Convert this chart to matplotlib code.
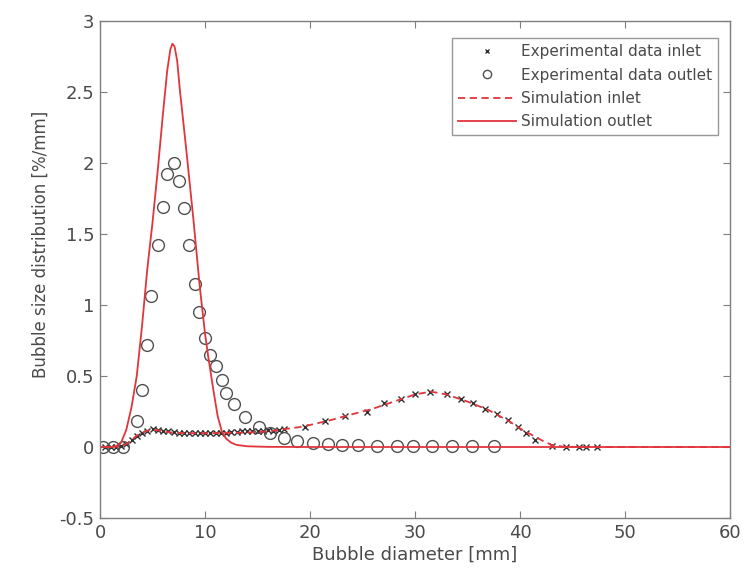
import matplotlib
matplotlib.use("Agg")
import matplotlib.pyplot as plt

plt.rcParams['font.family'] = ['DejaVu Sans']
plt.rcParams['axes.unicode_minus'] = False

# Experimental data inlet (crosses)
inlet_exp_x = [0.5, 1.0, 1.5, 2.0, 2.5, 3.0, 3.5, 4.0, 4.5, 5.0, 5.5, 6.0, 6.5, 7.0, 7.5, 8.0,
               8.5, 9.0, 9.5, 10.0, 10.5, 11.0, 11.5, 12.0, 12.5, 13.0, 13.5, 14.0, 14.5, 15.0,
               15.5, 16.0, 16.5, 17.0, 17.5, 19.5, 21.4, 23.3, 25.4, 27.0, 28.7, 30.0, 31.4,
               33.0, 34.35, 35.5, 36.7, 37.8, 38.9, 39.8, 40.6, 41.4, 43.0, 44.4, 45.6, 46.3, 47.3]
inlet_exp_y = [0.0, 0.0, 0.0, 0.005, 0.02, 0.05, 0.08, 0.10, 0.115, 0.125, 0.12, 0.115, 0.11,
               0.105, 0.10, 0.10, 0.098, 0.097, 0.097, 0.098, 0.10, 0.10, 0.10, 0.102, 0.105,
               0.105, 0.11, 0.11, 0.115, 0.11, 0.115, 0.12, 0.115, 0.12, 0.125, 0.14, 0.18,
               0.22, 0.25, 0.31, 0.34, 0.37, 0.39, 0.37, 0.34, 0.31, 0.27, 0.23, 0.19, 0.14,
               0.10, 0.05, 0.01, 0.0, 0.0, 0.0, 0.0]

# Experimental data outlet (circles)
outlet_exp_x = [0.3, 1.2, 2.2, 3.5, 4.0, 4.5, 4.9, 5.5, 6.0, 6.4, 7.05, 7.5, 8.0, 8.5, 9.0,
                9.4, 10.0, 10.5, 11.0, 11.6, 12.0, 12.8, 13.8, 15.1, 16.2, 17.5, 18.8, 20.3,
                21.7, 23.0, 24.6, 26.4, 28.3, 29.8, 31.6, 33.5, 35.4, 37.5]
outlet_exp_y = [0.0, 0.0, 0.0, 0.18, 0.40, 0.72, 1.06, 1.42, 1.69, 1.92, 2.0, 1.87, 1.68,
                1.42, 1.15, 0.95, 0.77, 0.65, 0.57, 0.47, 0.38, 0.30, 0.21, 0.14, 0.10, 0.06,
                0.04, 0.03, 0.02, 0.015, 0.012, 0.01, 0.01, 0.01, 0.01, 0.01, 0.01, 0.01]

# Simulation inlet (dashed)
inlet_sim_x = [0, 1, 2, 2.5, 3, 3.5, 4, 4.5, 5, 5.5, 6, 7, 8, 9, 10, 11, 12, 13, 14, 15, 16,
               17, 18, 19, 20, 22, 24, 26, 28, 30, 31.5, 33, 35, 37, 39, 40, 41, 42, 43, 44,
               46, 50, 60]
inlet_sim_y = [0, 0, 0.005, 0.02, 0.05, 0.08, 0.10, 0.115, 0.12, 0.118, 0.11, 0.10, 0.098,
               0.097, 0.097, 0.098, 0.10, 0.10, 0.102, 0.105, 0.11, 0.12, 0.13, 0.14, 0.155,
               0.19, 0.23, 0.27, 0.32, 0.37, 0.39, 0.37, 0.32, 0.26, 0.18, 0.13, 0.09, 0.05,
               0.015, 0.003, 0, 0, 0]

# Simulation outlet (solid)
outlet_sim_x = [0, 1, 1.5, 2.0, 2.5, 3.0, 3.5, 4.0, 4.5, 5.0, 5.5, 6.0, 6.4, 6.7, 6.9, 7.1,
                7.35, 7.6, 8.25, 8.9, 9.5, 10.0, 10.3, 10.8, 11.2, 11.6, 12.0, 12.5, 13.0,
                14.0, 16, 20, 30, 60]
outlet_sim_y = [0, 0, 0.005, 0.03, 0.12, 0.28, 0.50, 0.85, 1.25, 1.58, 1.95, 2.35, 2.65,
                2.80, 2.84, 2.82, 2.72, 2.52, 2.07, 1.60, 1.13, 0.80, 0.64, 0.40, 0.22, 0.11,
                0.06, 0.03, 0.015, 0.005, 0.001, 0, 0, 0]

xticks = [0, 10, 20, 30, 40, 50, 60]
yticks = [-0.5, 0, 0.5, 1, 1.5, 2, 2.5, 3]
yticklabels = ['-0.5', '0', '0.5', '1', '1.5', '2', '2.5', '3']

red = '#e0353b'
gray_axis = '#7f7f7f'
text_col = '#4a4a4a'

fig = plt.figure(figsize=(7.44, 5.81), dpi=100)
ax = fig.add_axes([100 / 744, 63 / 581, 630 / 744, 497 / 581])

ax.plot(inlet_exp_x, inlet_exp_y, linestyle='none', marker='x', ms=5, mew=1.0,
        color='#303030', label='Experimental data inlet')
ax.plot(outlet_exp_x, outlet_exp_y, linestyle='none', marker='o', ms=8.5, mew=1.0,
        mfc='none', mec='#505050', label='Experimental data outlet')
ax.plot(inlet_sim_x, inlet_sim_y, linestyle=(0, (4, 2.5)), lw=1.3, color=red,
        label='Simulation inlet')
ax.plot(outlet_sim_x, outlet_sim_y, linestyle='-', lw=1.3, color=red,
        label='Simulation outlet')

ax.set_xlim(0, 60)
ax.set_ylim(-0.5, 3)
ax.set_xticks(xticks)
ax.set_yticks(yticks)
ax.set_yticklabels(yticklabels)

for s in ax.spines.values():
    s.set_color(gray_axis)
    s.set_linewidth(1.0)
ax.tick_params(direction='in', length=5, width=0.8, color=gray_axis,
               labelcolor=text_col, labelsize=13, top=True, right=True, pad=4)

ax.set_xlabel('Bubble diameter [mm]', fontsize=13, color=text_col, labelpad=3)
ax.set_ylabel('Bubble size distribution [%/mm]', fontsize=12, color=text_col)
ax.yaxis.set_label_coords(-0.079, 0.55)

leg = ax.legend(loc='upper right', bbox_to_anchor=(618 / 630, 480 / 497), fontsize=11,
                frameon=True, fancybox=False, handlelength=3.8, handletextpad=0.3,
                borderpad=0.4, labelspacing=0.55, borderaxespad=0, markerscale=0.7)
leg.get_frame().set_edgecolor(gray_axis)
leg.get_frame().set_linewidth(1.0)
for t in leg.get_texts():
    t.set_color(text_col)

fig.savefig('out.png', dpi=100)
